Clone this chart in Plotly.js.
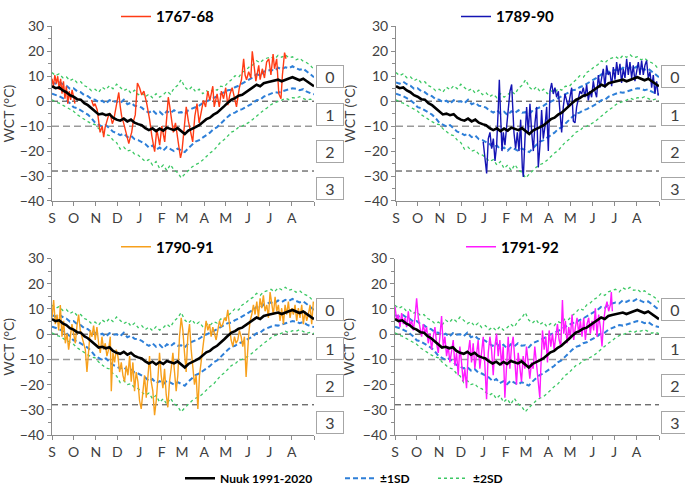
<!DOCTYPE html>
<html>
<head>
<meta charset="utf-8">
<script src="https://cdn.plot.ly/plotly-3.0.1.min.js"></script>
<style>html,body{margin:0;padding:0;background:#fff;}#chart{width:685px;height:493px;}</style>
</head>
<body>
<div id="chart"></div>
<script>
// ---- axis labels ----
const monthDays = [0, 30, 61, 91, 122, 153, 181, 212, 242, 273, 303, 334, 365];
const monthLabels = ['S', 'O', 'N', 'D', 'J', 'F', 'M', 'A', 'M', 'J', 'J', 'A', ''];
const yTicks = [-40, -30, -20, -10, 0, 10, 20, 30];
const classLabels = ['0', '1', '2', '3'];
const classLabelY = [9.8, -5.5, -20.3, -35.1];
const refLines = [0, -10, -28];

// ---- Nuuk 1991-2020 climatology (days since 1 Sep) ----
const climDays = [0,5,10,15,20,25,30,35,40,45,50,55,60,65,70,75,80,85,90,95,100,105,110,115,120,125,130,135,140,145,150,155,160,165,170,175,180,185,190,195,200,205,210,215,220,225,230,235,240,245,250,255,260,265,270,275,280,285,290,295,300,305,310,315,320,325,330,335,340,345,350,355,360,365];
const nuukMean = [6.0,5.2,5.5,4.3,3.6,2.4,1.8,0.8,0.6,-0.8,-1.6,-2.8,-4.2,-5.3,-5.0,-5.6,-5.2,-6.6,-7.4,-7.8,-7.0,-8.1,-7.4,-8.6,-9.2,-9.6,-10.8,-11.6,-10.9,-12.0,-11.0,-11.8,-10.6,-11.2,-11.6,-10.8,-12.2,-13.2,-11.8,-11.2,-10.4,-9.6,-8.2,-7.2,-6.6,-5.4,-4.6,-3.4,-2.0,-0.6,0.6,1.2,2.2,2.6,3.6,4.6,5.6,6.6,6.0,7.2,7.6,7.9,8.3,8.6,8.0,8.7,9.1,9.6,8.9,8.4,9.0,8.0,7.0,6.0];
const sd1Upper = [7.5,7.0,7.8,6.8,6.2,5.0,5.2,4.0,3.6,2.4,2.0,0.8,0.6,-0.4,0.2,-1.0,0.4,-0.2,0.0,-0.8,0.6,-1.2,-0.6,-1.8,-2.0,-2.6,-3.8,-4.6,-3.6,-5.0,-4.2,-5.6,-4.0,-4.8,-3.6,-4.6,-4.4,-5.2,-3.6,-3.0,-2.2,-1.8,-0.8,-0.2,0.6,1.2,2.0,2.8,3.6,4.4,4.6,5.6,6.2,7.0,7.8,8.8,9.6,10.8,10.4,11.8,12.2,12.6,12.2,13.4,12.8,13.6,13.2,14.0,13.2,12.6,13.0,12.0,10.8,9.6];
const sd1Lower = [3.0,2.6,2.0,1.2,0.4,-0.8,-2.4,-2.8,-3.6,-4.6,-5.4,-6.8,-8.6,-9.4,-10.2,-9.6,-11.0,-12.2,-12.8,-13.6,-13.0,-14.4,-13.8,-15.2,-15.6,-16.4,-17.2,-18.6,-17.8,-19.4,-18.6,-19.8,-18.4,-19.2,-20.0,-19.0,-19.6,-20.4,-18.8,-17.6,-16.2,-15.6,-14.6,-13.4,-12.6,-11.2,-10.4,-9.0,-7.4,-6.2,-5.0,-4.6,-3.6,-3.2,-2.4,-1.6,-0.8,0.4,0.6,1.8,2.4,3.0,3.6,3.4,3.8,4.4,4.6,5.2,5.0,4.4,4.8,3.8,3.2,2.8];
const sd2Upper = [11.5,10.2,11.0,9.4,9.8,8.2,9.0,7.4,7.8,6.2,5.6,4.2,4.8,3.6,5.6,4.6,6.2,5.0,6.8,5.4,4.2,5.0,3.2,4.4,2.6,3.4,1.8,2.8,1.4,3.0,1.6,2.6,4.0,2.8,5.2,6.4,8.6,5.6,4.4,5.8,3.8,4.8,3.0,4.2,3.4,5.0,4.4,6.0,5.8,7.4,8.6,10.2,9.6,11.6,12.4,13.8,14.6,16.2,15.4,16.8,17.2,17.8,16.8,18.4,17.6,18.6,17.4,17.8,16.6,17.2,16.0,15.4,14.4,12.6];
const sd2Lower = [0.6,-0.4,-0.8,-1.6,-2.4,-3.0,-4.0,-5.4,-6.4,-7.4,-8.2,-9.0,-9.4,-11.0,-12.2,-13.4,-13.8,-15.6,-16.6,-19.2,-18.4,-20.0,-19.6,-21.2,-21.6,-22.8,-24.2,-23.4,-25.6,-24.2,-27.0,-25.6,-27.8,-25.4,-27.6,-28.6,-30.8,-29.2,-27.6,-26.4,-25.4,-24.8,-23.6,-22.0,-20.8,-19.8,-18.0,-16.4,-15.4,-14.0,-12.4,-11.8,-10.4,-10.0,-9.2,-8.4,-7.2,-6.0,-4.6,-3.6,-2.6,-1.4,-0.6,-0.2,0.4,1.2,0.6,1.4,1.2,1.8,1.0,0.4,0.8,0.2];

// ---- historical years: [day since 1 Sep, WCT] (null = no data) ----
const wct1767 = [[0,9],[2,6],[4,10.5],[6,7],[8,10],[10,4.5],[12,9],[14,3],[16,8],[18,1],[20,6],[22,-1],[24,4],[26,0.5],[28,4.5],[30,1.5],[32,-1],[45,null],[55,0.5],[58,-2],[60,-1],[63,-3.5],[65,-8],[67,-12.5],[70,-10],[72,-14.4],[74,-10.5],[77,-7.4],[79,-5.5],[81,-4.8],[84,-9],[86,-7.5],[88,-4],[90,-2.3],[93,3.5],[95,-2],[97,-6],[100,-9],[102,-11.2],[104,-14],[107,-17],[109,-14.5],[111,-12.5],[113,-8.5],[116,-5.5],[119,7.3],[122,5.4],[125,2.5],[128,4],[132,-1],[134,-4],[136,-7.4],[139,-13.8],[141,-16.5],[143,-20.2],[146,-11.2],[148,-15],[150,-17.6],[153,-10],[155,-13],[157,-16.3],[160,-6],[162,1.6],[164,-2],[166,-6],[169,-12.5],[172,-8.7],[175,-15],[179,-22.7],[181,-20.2],[184,-11.2],[187,-2.3],[190,-8],[193,-12.5],[196,-16.3],[199,-6],[202,-1],[205,-8.7],[208,-4.8],[211,0.3],[214,-2.3],[217,4],[220,0.3],[224,6],[226,-2.3],[230,2.9],[233,-2.3],[236,4],[239,1],[242,5.4],[245,-1.6],[248,2.9],[251,5.4],[254,1],[257,-2.3],[261,5.4],[264,8.6],[267,17],[269,10.5],[271,8.6],[274,11.8],[277,9.3],[279,20],[282,13],[284,8],[288,14.4],[290,8.6],[293,13],[296,9.3],[299,15.7],[302,17],[305,10.5],[308,18.9],[310,13],[313,17],[316,2.9],[319,1],[321,10.5],[324,19.5],[326,17]];
const wct1789 = [[121,-16.3],[123.5,-24],[125.8,-29],[128.1,-15],[130.4,-12.5],[132.7,-19],[135.1,-15],[137.4,-24],[139.7,-17.6],[142,-2.3],[143.4,8.6],[145.2,-6],[147.1,-20],[148.9,-12.5],[151.2,-17.6],[153.6,-10],[155.9,-2.3],[158.2,4],[160.5,6.7],[161.9,-2.3],[163.7,-12.5],[166,-19],[168.4,-12.5],[170.7,-20],[173,-7.4],[175.3,-26.6],[176.7,-30.4],[179,-15],[181.3,-2.3],[183.6,-12.5],[185.9,-1],[188.3,-12.5],[190.6,-20],[192.9,-8.7],[195.2,-2.3],[197.5,-26.6],[199.8,-17.6],[202.1,-3.5],[204.4,-15],[206.8,-10],[209.1,-2.3],[211.4,-20],[213.7,4],[216,7.3],[218.3,2.9],[220.6,5.4],[222.9,1.6],[225.3,4],[227.6,-6],[229.9,-12.5],[232.2,-2.3],[234.5,2.9],[236.8,0.3],[239.1,-2.3],[241.4,1.6],[243.8,5.4],[246.1,-8],[248.4,-8.7],[250.7,-2.3],[253,1.6],[255.3,4],[257.6,2.9],[259.9,5.4],[262.3,1.6],[264.6,6.7],[266.9,0.3],[269.2,4],[271.5,1.6],[273.8,8],[276.1,4],[278.4,1.6],[280.8,10.5],[283.1,5.4],[285.4,9.3],[287.7,13],[290,5.4],[292.3,14.4],[294.6,10.5],[296.9,11.8],[299.3,6],[301.6,13.7],[303.9,8.6],[306.2,15.7],[308.5,10.5],[310.8,15],[313.1,7.3],[315.4,13],[317.8,9.3],[320.1,17],[322.4,10.5],[324.7,15.7],[327,9.3],[329.3,14.4],[331.6,8],[334,13],[336.3,15.7],[338.6,10.5],[340.9,16.3],[343.2,10.5],[345.5,14.4],[347.8,16.3],[350.1,9.3],[352.5,11.8],[354.8,5.4],[357.1,10.5],[359.4,2.9],[361.7,8],[364,2.2]];
const wct1790 = [[0,6.5],[2.3,13.5],[4.6,4],[7,7.8],[9.3,1.5],[11.6,11.6],[13.9,-1],[16.2,5.3],[18.6,-3.6],[20.9,0.2],[23.2,-6.1],[25.5,-1],[27.8,4],[30.1,0.2],[32.5,-3.6],[34.8,3.4],[37.1,7.8],[39.4,1.5],[41.7,-1],[44.1,-3.6],[46.4,-6.1],[48.7,-15],[51,-4.9],[53.3,1.5],[55.7,-1],[58,3.4],[60.3,-2.3],[62.6,2.8],[64.9,-3.6],[67.3,-7.4],[69.6,-1],[71.9,-6.1],[74.2,-3.6],[76.5,-8.7],[78.8,-6.1],[81.2,-1],[82.6,-22.6],[84.9,-7.4],[87.2,-11.2],[89.5,-6.1],[91.8,-8.7],[94.2,-15],[96.5,-11.2],[98.8,-16.3],[101.1,-18.8],[103.4,-12.5],[105.8,-16.3],[108.1,-8.7],[110.4,-18.8],[112.7,-11.2],[115,-22.6],[117.3,-15],[119.7,-18.8],[122,-26.4],[124.3,-29.6],[126.6,-21.4],[128.9,-16.3],[131.3,-25.2],[133.6,-17.6],[135.9,-8.7],[138.2,-18.8],[140.5,-22.6],[142.9,-32.1],[145.2,-26.4],[147.5,-17.6],[149.8,-7.4],[152.1,-16.3],[154.5,-21.4],[156.8,-13.7],[159.1,-23.9],[161.4,-29],[163.7,-18.8],[166,-13.7],[168.4,-7.4],[170.7,-15],[173,-22.6],[175.3,-16.3],[177.6,-1],[180,6.5],[182.3,1.5],[184.6,-7.4],[186.9,-15],[189.2,-1],[191.6,4],[193.9,-6.1],[196.2,-13.7],[198.5,-20],[200.8,-16.3],[203.2,-29.6],[205.5,-16.3],[207.8,-11.2],[210.1,-4.9],[212.4,-1],[214.7,5.3],[217.1,1.5],[219.4,4],[221.7,-1],[224,2.8],[226.3,0.2],[228.7,-2.3],[231,1.5],[233.3,5.3],[235.6,2.8],[237.9,4],[240.3,6.5],[242.6,5.3],[244.9,9.7],[247.2,4],[249.5,-2.3],[251.9,-4.9],[254.2,-1],[256.5,-3.6],[258.8,-2.3],[261.1,1.5],[263.5,-1],[265.8,-4.9],[268.1,-1],[270.4,-17],[272.3,-4.9],[274.1,0.2],[276,5.3],[278.3,7.8],[280.6,11.6],[282.9,7.8],[285.3,12.9],[287.6,6.5],[289.9,14.2],[292.2,10.3],[294.5,15.4],[296.8,9.1],[299.2,11.6],[301.5,6.5],[303.8,16.7],[306.1,11.6],[308.4,7.8],[310.8,14.8],[313.1,9.1],[315.4,11.6],[317.7,5.3],[320,10.3],[322.4,4],[324.7,11.6],[327,7.8],[329.3,12.9],[331.6,6.5],[334,10.3],[336.3,7.8],[338.6,11.6],[340.9,5.3],[343.2,10.3],[345.5,6.5],[347.9,11.6],[350.2,4],[352.5,9.1],[354.8,5.3],[357.1,7.8],[359.5,11.6],[361.8,4],[364.1,12.9]];
const wct1791 = [[0,11],[2.3,5.3],[4.6,7.8],[6.9,2.8],[9.2,8.4],[11.5,4],[13.8,6.5],[16.1,2.8],[18.4,9.1],[20.7,3.4],[23,5.3],[25.3,1.5],[27.6,6.5],[29.9,14.2],[32.2,6.5],[34.5,2.8],[36.8,-1],[39.1,4],[41.4,0.2],[43.7,2.8],[46,-3.6],[48.3,0.2],[50.6,-6.1],[52.9,-1],[55.2,2.8],[57.5,-3.6],[59.8,-7.4],[62.1,-1],[64.4,7.2],[66.7,-4.9],[69,-1],[71.3,-8.7],[73.6,-4.9],[75.9,-11.2],[78.2,-6.1],[80.5,-2.3],[82.8,-12.5],[85.1,-7.4],[87.4,-16.3],[89.7,-4.9],[92,-11.2],[94.3,-18.8],[96.6,-13.7],[98.9,-21.4],[101.2,-7.4],[103.5,-2.3],[105.8,-11.2],[108.1,-3.6],[110.4,-13.7],[112.7,-8.7],[115,-2.3],[117.3,-13.7],[119.7,-7.4],[122,-1],[124.3,-12.5],[126.6,-25.8],[128.9,-7.4],[131.2,-1],[133.5,-6.1],[135.8,-16.3],[138.1,-4.9],[140.4,0.2],[142.7,-8.7],[145,-2.3],[147.3,-12.5],[149.6,-4.9],[151.9,-25.2],[154.2,-11.2],[156.5,-1],[158.8,-13.7],[161.1,-4.9],[163.4,-1],[165.7,-11.2],[168,-20],[170.3,-7.4],[172.6,-13.7],[174.9,-18.8],[177.2,-8.7],[179.5,-13.7],[181.8,-4.9],[184.1,-12.5],[186.4,-17.6],[188.7,-11.2],[191,-13.7],[193.3,-4.9],[195.6,-11.2],[197.9,-16.3],[200.2,-25.2],[201.6,-13.7],[203.9,1.5],[206.2,-6.1],[208.5,-1],[210.8,-11.2],[213.1,1.5],[215.4,-4.9],[217.7,0.2],[220,-6.1],[222.3,-1],[224.6,4],[226.9,-2.3],[229.2,-4.9],[231.5,13.5],[233.3,0.2],[235.6,5.3],[237.9,-3.6],[240.2,2.8],[242.5,-1],[244.8,7.8],[247.1,-2.3],[249.4,2.8],[251.7,6.5],[254,0.2],[256.3,5.3],[258.6,-1],[260.9,6.5],[263.2,-2.3],[265.5,4],[267.8,6.5],[270.1,0.2],[272.4,5.3],[274.7,1.5],[277,10.3],[279.3,-1],[281.6,7.8],[283.9,2.8],[286.2,-4.9],[288.5,5.3],[290.8,10.3],[293.1,12.9],[295.4,9.1],[297.7,11.6],[299.1,16.7],[300.5,9.1]];

const yearNames = ['1767-68', '1789-90', '1790-91', '1791-92'];
const yearSeries = [wct1767, wct1789, wct1790, wct1791];
const yearColors = ['#ff3b14', '#1414b4', '#f7a01c', '#ff1aff'];

// ---- layout geometry (paper fractions) ----
const W = 685, H = 493;
const panels = [
  {xd: [52 / W, 314 / W], yd: [1 - 198 / H, 1 - 16 / H], legX: 116 / W, legY: 1 - 6 / H},
  {xd: [396 / W, 659 / W], yd: [1 - 198 / H, 1 - 16 / H], legX: 456 / W, legY: 1 - 6 / H},
  {xd: [52 / W, 314 / W], yd: [1 - 442 / H, 1 - 258 / H], legX: 116 / W, legY: 1 - 246 / H},
  {xd: [395 / W, 659 / W], yd: [1 - 442 / H, 1 - 258 / H], legX: 461 / W, legY: 1 - 246 / H}
];

const FONT = 'Lato, "Open Sans", sans-serif';
const axisCol = '#8c8c8c';
const traces = [];
const layout = {
  width: W, height: H,
  margin: {l: 0, r: 0, t: 0, b: 0},
  paper_bgcolor: '#fff', plot_bgcolor: '#fff',
  font: {family: FONT, color: '#404040', size: 13},
  shapes: [], annotations: [],
  legend: {x: 180 / W, y: 1 - 487 / H, xanchor: 'left', yanchor: 'middle', bgcolor: 'rgba(0,0,0,0)', font: {size: 12, weight: 'bold', color: '#000'}},
  legend2: {x: 340 / W, y: 1 - 487 / H, xanchor: 'left', yanchor: 'middle', bgcolor: 'rgba(0,0,0,0)', font: {size: 12, weight: 'bold', color: '#000'}},
  legend3: {x: 433 / W, y: 1 - 487 / H, xanchor: 'left', yanchor: 'middle', bgcolor: 'rgba(0,0,0,0)', font: {size: 12, weight: 'bold', color: '#000'}}
};

panels.forEach((p, i) => {
  const n = i + 1;
  const sx = n === 1 ? '' : String(n);
  const xa = 'x' + sx, ya = 'y' + sx;
  layout['xaxis' + sx] = {
    domain: p.xd, anchor: ya, range: [0, 365],
    tickmode: 'array', tickvals: monthDays, ticktext: monthLabels,
    ticks: 'outside', ticklen: 4, tickcolor: axisCol,
    showline: true, linecolor: axisCol, linewidth: 1,
    showgrid: false, zeroline: false, automargin: false, fixedrange: true,
    tickfont: {size: 14, color: '#404040'}
  };
  layout['yaxis' + sx] = {
    domain: p.yd, anchor: xa, range: [-40, 30],
    tickmode: 'array', tickvals: yTicks,
    ticks: 'outside', ticklen: 4, tickcolor: axisCol,
    minor: {tickmode: 'array', tickvals: [-35, -25, -15, -5, 5, 15, 25], ticks: 'outside', ticklen: 3, tickcolor: axisCol},
    showline: true, linecolor: axisCol, linewidth: 1,
    showgrid: false, zeroline: false, automargin: false, fixedrange: true,
    tickfont: {size: 14, color: '#404040'},
    title: {text: 'WCT (°C)', font: {size: 14, color: '#404040'}, standoff: 4}
  };

  // ±2SD
  traces.push({x: climDays, y: sd2Upper, xaxis: xa, yaxis: ya, type: 'scatter', mode: 'lines',
    name: '±2SD', legend: 'legend3', legendgroup: 'sd2', showlegend: i === 0,
    line: {color: '#3cc864', width: 1.3, dash: 'dot'}, hoverinfo: 'skip'});
  traces.push({x: climDays, y: sd2Lower, xaxis: xa, yaxis: ya, type: 'scatter', mode: 'lines',
    name: '±2SD', legend: 'legend3', legendgroup: 'sd2', showlegend: false,
    line: {color: '#3cc864', width: 1.3, dash: 'dot'}, hoverinfo: 'skip'});
  // ±1SD
  traces.push({x: climDays, y: sd1Upper, xaxis: xa, yaxis: ya, type: 'scatter', mode: 'lines',
    name: '±1SD', legend: 'legend2', legendgroup: 'sd1', showlegend: i === 0,
    line: {color: '#2e7fd8', width: 2, dash: '5px,3px'}, hoverinfo: 'skip'});
  traces.push({x: climDays, y: sd1Lower, xaxis: xa, yaxis: ya, type: 'scatter', mode: 'lines',
    name: '±1SD', legend: 'legend2', legendgroup: 'sd1', showlegend: false,
    line: {color: '#2e7fd8', width: 2, dash: '5px,3px'}, hoverinfo: 'skip'});
  // historical year
  const s = yearSeries[i];
  traces.push({x: s.map(d => d[0]), y: s.map(d => d[1]), xaxis: xa, yaxis: ya, type: 'scatter', mode: 'lines',
    name: yearNames[i], legend: 'legend' + (i + 4), connectgaps: false,
    line: {color: yearColors[i], width: 1.4}});
  // Nuuk mean
  traces.push({x: climDays, y: nuukMean, xaxis: xa, yaxis: ya, type: 'scatter', mode: 'lines',
    name: 'Nuuk 1991-2020', legend: 'legend', legendgroup: 'nuuk', showlegend: i === 0,
    line: {color: '#000', width: 2.6}});

  layout['legend' + (i + 4)] = {
    x: p.legX, y: p.legY, xanchor: 'left', yanchor: 'middle',
    bgcolor: 'rgba(0,0,0,0)', font: {size: 15, weight: 'bold', color: '#000'}
  };

  // reference lines
  refLines.forEach(v => {
    layout.shapes.push({type: 'line', xref: xa + ' domain', yref: ya, x0: 0, x1: 1, y0: v, y1: v,
      layer: 'below',
      line: v === -10 ? {color: '#9a9a9a', width: 1.5, dash: '7px,4px'} : {color: '#333333', width: 1, dash: '6px,4px'}});
  });
  // class boxes
  classLabels.forEach((t, k) => {
    layout.annotations.push({xref: xa + ' domain', yref: ya, x: 1.061, y: classLabelY[k],
      text: t, showarrow: false, xanchor: 'center', yanchor: 'middle',
      width: 24, height: 19, borderpad: 1, borderwidth: 1, bordercolor: '#a6a6a6', bgcolor: '#fff',
      font: {size: 16, color: '#404040'}});
  });
});

Plotly.newPlot('chart', traces, layout, {displayModeBar: false, staticPlot: true});
</script>
</body>
</html>
